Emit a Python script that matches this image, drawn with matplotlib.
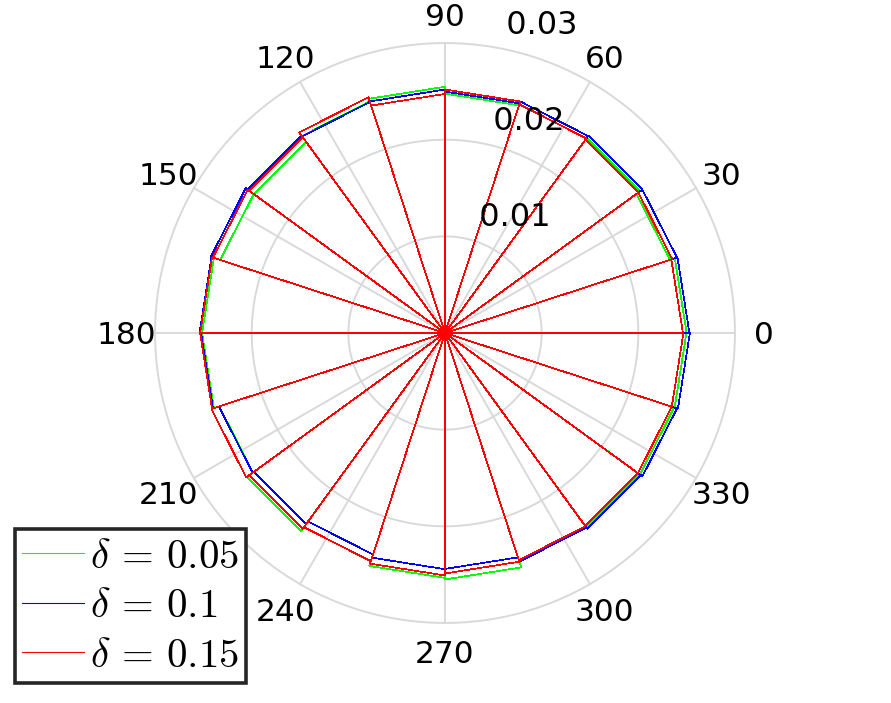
import numpy as np
import matplotlib
matplotlib.use("Agg")
import matplotlib.pyplot as plt

plt.rcParams['font.family'] = ['DejaVu Sans']
plt.rcParams['mathtext.fontset'] = 'cm'

# ---- data: 20 rose bins of 18 degrees, starting at 0 deg ----
n_bins = 20
bin_edges_deg = np.arange(0, 361, 18)

vals_005 = [0.02500, 0.02449, 0.02498, 0.02488, 0.02477, 0.02548, 0.02519, 0.02446, 0.02446, 0.02514,
            0.02514, 0.02457, 0.02534, 0.02483, 0.02534, 0.02550, 0.02477, 0.02483, 0.02493, 0.02498]
vals_010 = [0.02529, 0.02524, 0.02527, 0.02519, 0.02498, 0.02519, 0.02514, 0.02524, 0.02548, 0.02540,
            0.02524, 0.02460, 0.02441, 0.02410, 0.02444, 0.02441, 0.02488, 0.02503, 0.02524, 0.02534]
vals_015 = [0.02462, 0.02472, 0.02477, 0.02488, 0.02519, 0.02474, 0.02565, 0.02501, 0.02524, 0.02534,
            0.02534, 0.02542, 0.02503, 0.02483, 0.02509, 0.02488, 0.02472, 0.02467, 0.02467, 0.02467]

series_labels = [r'$\delta \,=\, 0.05$', r'$\delta \,=\, 0.1$', r'$\delta \,=\, 0.15$']
series_colors = ['#00ff00', '#0000ff', '#ff0000']

ring_values = [0.01, 0.02, 0.03]
ring_labels = ['0.01', '0.02', '0.03']
angle_ticks = [0, 30, 60, 90, 120, 150, 180, 210, 240, 270, 300, 330]

# ---- figure ----
W, H = 891, 703
fig = plt.figure(figsize=(W / 100, H / 100), dpi=100)
ax = fig.add_axes([0, 0, 1, 1])
s = 9665.0          # pixels per data unit
cx, cy = 445.0, 333.0
ax.set_xlim(-cx / s, (W - cx) / s)
ax.set_ylim(-(H - cy) / s, cy / s)
ax.set_aspect('equal')
ax.axis('off')

rmax = ring_values[-1]
grid_col = '#d9d9d9'
# spokes
for a in angle_ticks[:6]:
    t = np.deg2rad(a)
    ax.plot([-rmax * np.cos(t), rmax * np.cos(t)], [-rmax * np.sin(t), rmax * np.sin(t)],
            color=grid_col, lw=1.4, zorder=1)
# rings
phi = np.linspace(0, 2 * np.pi, 721)
for rv in ring_values:
    ax.plot(rv * np.cos(phi), rv * np.sin(phi), color=grid_col, lw=1.4, zorder=1)

# ring labels (MATLAB style, at 82 degrees)
c82, s82 = np.cos(np.deg2rad(82)), np.sin(np.deg2rad(82))
rinc = ring_values[1] - ring_values[0]
for rv, lab in zip(ring_values, ring_labels):
    ax.text((rv + rinc / 20) * c82, (rv + rinc / 20) * s82, '  ' + lab,
            ha='left', va='bottom', fontsize=23, color='black', zorder=5)

# angle labels
rt = 1.1 * rmax
for a in angle_ticks:
    t = np.deg2rad(a)
    ax.text(rt * np.cos(t), rt * np.sin(t), str(a), ha='center', va='center_baseline',
            fontsize=22.5, color='black', zorder=5)

# rose polygons
edges = np.deg2rad(bin_edges_deg)
handles = []
for vals, col, lab in zip([vals_005, vals_010, vals_015], series_colors, series_labels):
    xs, ys = [], []
    for k in range(n_bins):
        r = vals[k]
        for th, rr in [(edges[k], 0.0), (edges[k], r), (edges[k + 1], r), (edges[k + 1], 0.0)]:
            xs.append(rr * np.cos(th))
            ys.append(rr * np.sin(th))
    h, = ax.plot(xs, ys, color=col, lw=0.5, zorder=3, label=lab, antialiased=False)
    handles.append(h)

leg = fig.legend(handles=handles, loc='lower left', bbox_to_anchor=(15 / W, 20 / H),
                 borderaxespad=0, fontsize=29.5, handlelength=1.5, handletextpad=0.15,
                 labelspacing=0.23, borderpad=0.18, fancybox=False, framealpha=1,
                 edgecolor='#262626')
leg.get_frame().set_linewidth(2.6)
for ln in leg.get_lines():
    ln.set_antialiased(True)
    ln.set_linewidth(0.8)

fig.savefig('out.png', dpi=100)
